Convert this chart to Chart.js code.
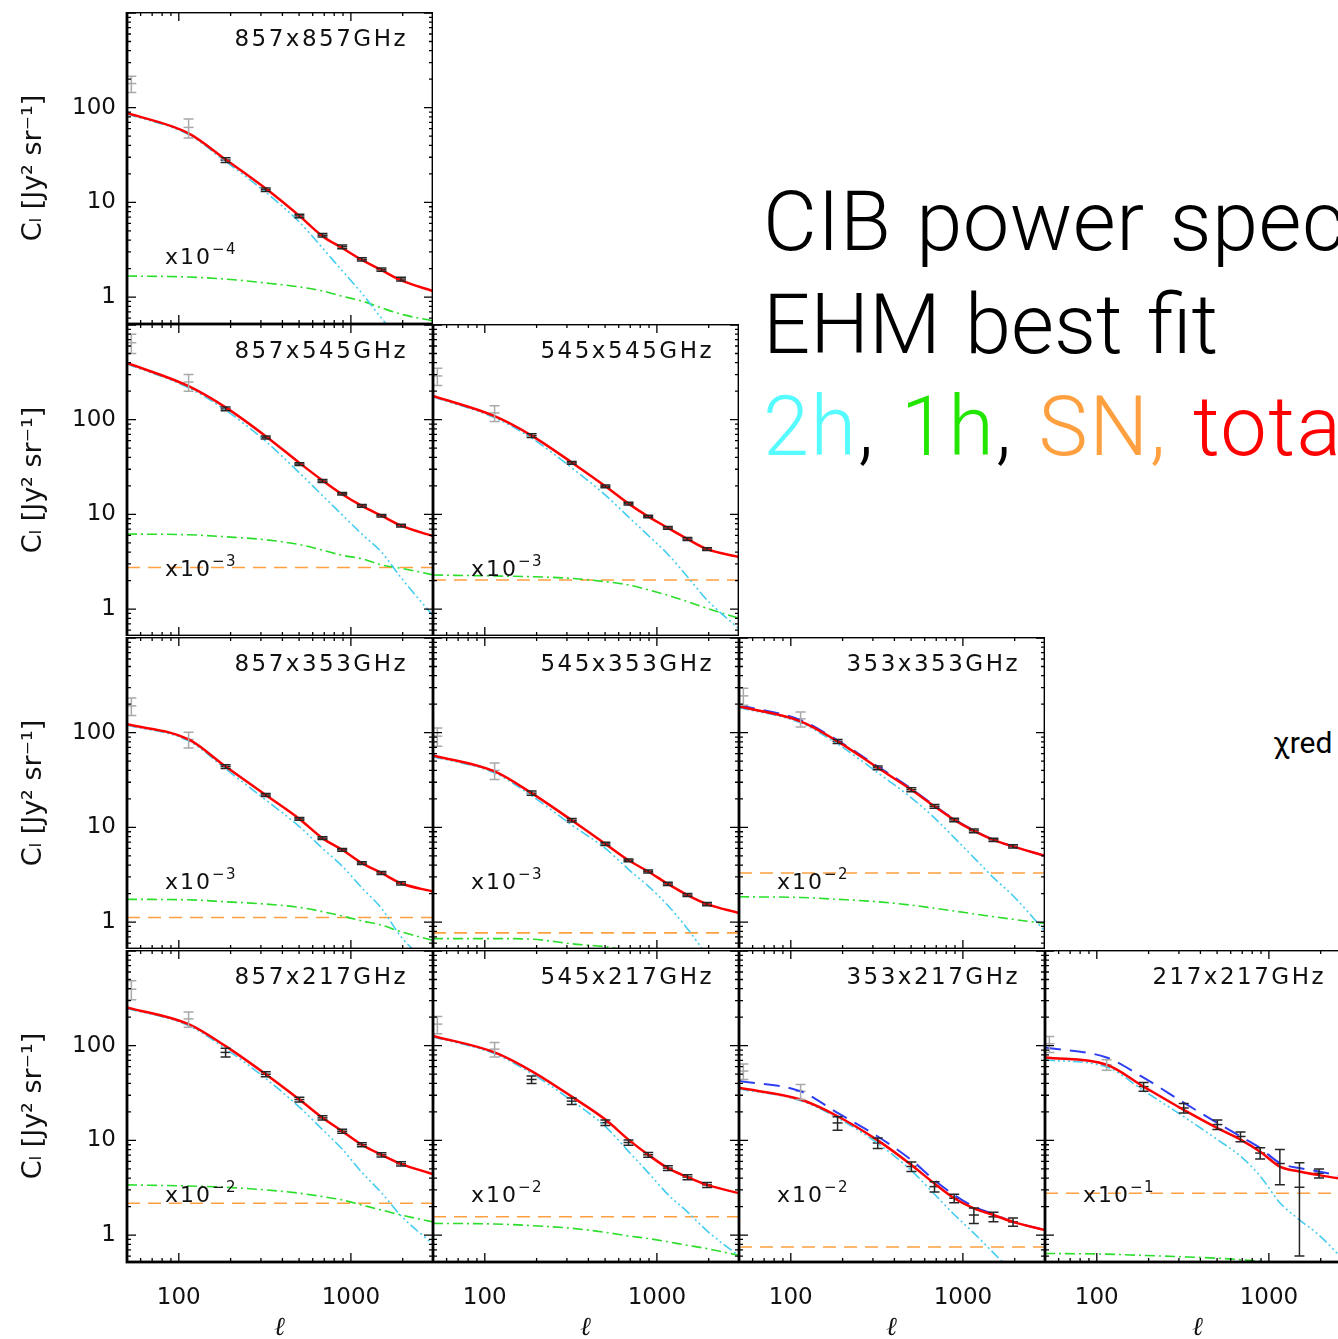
<!DOCTYPE html>
<html><head><meta charset="utf-8">
<script src="https://cdn.jsdelivr.net/npm/chart.js@4.4.1/dist/chart.umd.min.js"></script>
<style>
html,body{margin:0;padding:0;background:#fff;}
body{width:1338px;height:1339px;overflow:hidden;position:relative;}
canvas{position:absolute;}
.big{position:absolute;left:763px;font-family:"Helvetica Neue",Roboto,"Open Sans",sans-serif;font-weight:300;font-size:83px;line-height:83px;white-space:nowrap;color:#000;}
#chi{position:absolute;left:1273px;top:728px;font-family:"Helvetica Neue",Roboto,sans-serif;font-size:30px;line-height:30px;white-space:nowrap;}
</style></head><body>
<div class="big" style="top:180px;letter-spacing:0.5px;word-spacing:4px">CIB power spectra</div>
<div class="big" style="top:283px;letter-spacing:0px;word-spacing:4px">EHM best fit</div>
<div class="big" style="top:385px;letter-spacing:1.5px;word-spacing:4px"><span style="color:#55fbff">2h</span>, <span style="color:#22e600">1h</span>, <span style="color:#ffa040">SN,</span> <span style="color:#ff0000">total</span></div>
<div id="chi">χred</div>
<script>
// ---------- data ----------
const ELL = [50, 114, 187, 320, 502, 684, 890, 1158, 1505, 1956, 3000];
const DATA_ELL = [53, 114, 187, 320, 502, 684, 890, 1158, 1505, 1956];
const SN_ELL = [50, 3000];
const X_TICKS = [100, 1000];
const Y_TICKS = [1, 10, 100];

const LABELS = ['857x857GHz','857x545GHz','545x545GHz','857x353GHz','545x353GHz','353x353GHz','857x217GHz','545x217GHz','353x217GHz','217x217GHz'];
const EXPONENTS = ['4','3','3','3','3','2','2','2','2','1'];

const TOT_857x857 = [88, 53.6, 28.4, 14.0, 7.2, 4.4, 3.3, 2.47, 1.93, 1.5, 1.16];
const TWO_857x857 = [86, 52, 27, 12.8, 6.2, 3.3, 1.9, 1.1, 0.6, 0.35, 0.15];
const ONE_857x857 = [1.67, 1.63, 1.55, 1.41, 1.28, 1.16, 1.02, 0.91, 0.77, 0.66, 0.56];
const DAT_857x857 = [180, 62, 28, 13.6, 7.2, 4.5, 3.4, 2.5, 1.95, 1.55];
const ERR_857x857 = [35, 14, 1.6, 0.6, 0.3, 0.2, 0.15, 0.1, 0.08, 0.07];

const TOT_857x545 = [398, 226, 135, 67, 35, 22.8, 16.3, 12.3, 9.7, 7.6, 5.9];
const TWO_857x545 = [389, 217, 126, 59, 27.5, 15.8, 9.9, 6.2, 4.0, 2.15, 0.85];
const ONE_857x545 = [6.2, 6.1, 5.8, 5.4, 4.8, 4.2, 3.7, 3.4, 2.93, 2.7, 2.3];
const SN_857x545 = [2.75, 2.75];
const DAT_857x545 = [650, 250, 130, 65, 34, 22.5, 16.5, 12.3, 9.7, 7.6];
const ERR_857x545 = [150, 50, 6, 2.5, 1.2, 0.8, 0.5, 0.4, 0.3, 0.25];

const TOT_545x545 = [178, 109, 68, 35.4, 19.8, 13, 9.5, 7.2, 5.5, 4.3, 3.55];
const TWO_545x545 = [174, 105, 64, 31, 16, 9.4, 6.0, 3.8, 2.2, 1.25, 0.62];
const ONE_545x545 = [2.29, 2.24, 2.2, 2.11, 1.95, 1.8, 1.6, 1.4, 1.2, 1.02, 0.8];
const SN_545x545 = [2.03, 2.03];
const DAT_545x545 = [290, 118, 68, 35, 19.8, 13, 9.5, 7.2, 5.5, 4.3];
const ERR_545x545 = [60, 22, 3, 1.2, 0.7, 0.4, 0.3, 0.25, 0.2, 0.15];

const TOT_857x353 = [123, 85, 44, 22, 12.3, 7.7, 5.8, 4.2, 3.3, 2.57, 2.1];
const TWO_857x353 = [120, 82, 41.5, 19.5, 10.2, 6.0, 3.9, 2.3, 1.4, 0.7, 0.33];
const ONE_857x353 = [1.74, 1.72, 1.64, 1.55, 1.43, 1.29, 1.16, 1.03, 0.93, 0.79, 0.64];
const SN_857x353 = [1.12, 1.12];
const DAT_857x353 = [192, 85, 44, 22, 12.3, 7.7, 5.8, 4.2, 3.3, 2.57];
const ERR_857x353 = [40, 16, 2, 0.8, 0.4, 0.25, 0.2, 0.15, 0.12, 0.1];

const TOT_545x353 = [57.6, 39, 23, 11.9, 6.7, 4.5, 3.42, 2.53, 1.93, 1.55, 1.25];
const TWO_545x353 = [56, 37.6, 21.6, 10.6, 6.0, 3.6, 2.4, 1.5, 0.85, 0.45, 0.18];
const ONE_545x353 = [0.67, 0.67, 0.66, 0.59, 0.55, 0.5, 0.45, 0.42, 0.4, 0.38, 0.35];
const SN_545x353 = [0.77, 0.77];
const DAT_545x353 = [92, 40, 23, 11.9, 6.7, 4.5, 3.42, 2.53, 1.93, 1.55];
const ERR_545x353 = [20, 8, 1.2, 0.5, 0.25, 0.15, 0.12, 0.1, 0.07, 0.06];

const TOT_353x353 = [189, 132, 81, 42.6, 25, 16.7, 12, 9.2, 7.4, 6.3, 5.0];
const ALT_353x353 = [195, 136, 83, 44, 25.6, 17, 12.2, 9.3, 7.4, 6.3, 5.0];
const TWO_353x353 = [184, 127, 76, 37.8, 20.5, 12.6, 7.8, 4.8, 2.95, 1.9, 0.8];
const ONE_353x353 = [1.85, 1.82, 1.74, 1.64, 1.51, 1.4, 1.31, 1.22, 1.14, 1.07, 0.97];
const SN_353x353 = [3.3, 3.3];
const DAT_353x353 = [245, 140, 81, 42.6, 25, 16.7, 12, 9.2, 7.4, 6.3];
const ERR_353x353 = [50, 25, 4, 2, 1.2, 0.8, 0.5, 0.4, 0.3, 0.25];

const TOT_857x217 = [254, 169, 99, 50, 27, 17.3, 12.5, 9.0, 7.05, 5.66, 4.4];
const TWO_857x217 = [248, 163, 93, 45, 22.5, 13, 8.1, 4.6, 2.8, 1.6, 0.8];
const ONE_857x217 = [3.39, 3.3, 3.2, 3.0, 2.77, 2.55, 2.35, 2.08, 1.84, 1.63, 1.38];
const SN_857x217 = [2.17, 2.17];
const DAT_857x217 = [395, 192, 85, 50, 27, 17.3, 12.5, 9.0, 7.05, 5.66];
const ERR_857x217 = [90, 35, 9, 3, 1.5, 0.9, 0.6, 0.45, 0.35, 0.3];

const TOT_545x217 = [127, 85, 54, 29, 16.6, 10.2, 7.05, 5.1, 4.1, 3.39, 2.77];
const TWO_545x217 = [124, 82, 51, 26.3, 14, 7.66, 4.57, 2.69, 1.76, 1.11, 0.6];
const ONE_545x217 = [1.33, 1.31, 1.26, 1.18, 1.07, 0.98, 0.92, 0.85, 0.78, 0.72, 0.61];
const SN_545x217 = [1.56, 1.56];
const DAT_545x217 = [169, 92, 44, 26, 15.4, 9.5, 7.05, 5.1, 4.1, 3.39];
const ERR_545x217 = [35, 16, 4, 2, 1, 0.6, 0.4, 0.3, 0.25, 0.2];

const TOT_353x217 = [35.9, 27, 18, 10, 5.5, 3.5, 2.45, 1.92, 1.63, 1.38, 1.13];
const ALT_353x217 = [42.3, 33, 19.5, 11, 6.2, 3.8, 2.65, 2.0, 1.67, 1.38, 1.13];
const TWO_353x217 = [35, 26.3, 17.3, 9.3, 4.8, 2.7, 1.65, 1.05, 0.65, 0.4, 0.15];
const ONE_353x217 = [0.45, 0.44, 0.43, 0.41, 0.39, 0.37, 0.35, 0.33, 0.31, 0.29, 0.26];
const SN_353x217 = [0.75, 0.75];
const DAT_353x217 = [54, 33, 15.3, 9.4, 5.3, 3.25, 2.45, 1.63, 1.56, 1.38];
const ERR_353x217 = [10, 6, 2.5, 1.2, 0.6, 0.4, 0.25, 0.3, 0.18, 0.14];

const TOT_217x217 = [75, 63, 37, 21, 13.5, 10.2, 7.6, 5.3, 4.7, 4.3, 3.8];
const ALT_217x217 = [95.5, 75, 46, 25, 15.3, 11, 8.3, 5.76, 5.1, 4.7, 4.0];
const TWO_217x217 = [71, 59.6, 33.6, 17.8, 10.2, 6.8, 4.2, 2.2, 1.45, 1.0, 0.45];
const ONE_217x217 = [0.64, 0.63, 0.61, 0.59, 0.57, 0.55, 0.53, 0.505, 0.48, 0.46, 0.43];
const SN_217x217 = [2.77, 2.77];
const DAT_217x217 = [105, 63, 37, 22, 14.7, 11, 7.35, 5.7, 3.2, 4.5];
const ERR_217x217 = [20, 8, 4, 2.5, 1.7, 1.3, 1.0, 2.3, 2.6, 0.5];

// ---------- panel table (built from arrays above) ----------
const SERIES = [
  [TOT_857x857, null, TWO_857x857, ONE_857x857, null, DAT_857x857, ERR_857x857],
  [TOT_857x545, null, TWO_857x545, ONE_857x545, SN_857x545, DAT_857x545, ERR_857x545],
  [TOT_545x545, null, TWO_545x545, ONE_545x545, SN_545x545, DAT_545x545, ERR_545x545],
  [TOT_857x353, null, TWO_857x353, ONE_857x353, SN_857x353, DAT_857x353, ERR_857x353],
  [TOT_545x353, null, TWO_545x353, ONE_545x353, SN_545x353, DAT_545x353, ERR_545x353],
  [TOT_353x353, ALT_353x353, TWO_353x353, ONE_353x353, SN_353x353, DAT_353x353, ERR_353x353],
  [TOT_857x217, null, TWO_857x217, ONE_857x217, SN_857x217, DAT_857x217, ERR_857x217],
  [TOT_545x217, null, TWO_545x217, ONE_545x217, SN_545x217, DAT_545x217, ERR_545x217],
  [TOT_353x217, ALT_353x217, TWO_353x217, ONE_353x217, SN_353x217, DAT_353x217, ERR_353x217],
  [TOT_217x217, ALT_217x217, TWO_217x217, ONE_217x217, SN_217x217, DAT_217x217, ERR_217x217]
];

// ---------- layout ----------
const GRID_POS = [[0,0],[1,0],[1,1],[2,0],[2,1],[2,2],[3,0],[3,1],[3,2],[3,3]];
const FX = [127, 433, 739, 1045];
const FY = [12, 324, 637, 950];
const FW = 306, FH = 312;
const YAXIS_W = 127, XAXIS_H = 77;
const FONT = '"DejaVu Sans"';

Chart.defaults.font.family = 'DejaVu Sans';

const pts = (xs, ys) => xs.map((l, i) => ({x: l, y: ys[i]}));
const zeroPad = sc => { sc.paddingTop = 0; sc.paddingBottom = 0; sc.paddingLeft = 0; sc.paddingRight = 0; };

function decoPlugin(idx) {
  const s = SERIES[idx];
  return {
    id: 'deco' + idx,
    afterDatasetsDraw(chart) {
      const {ctx, chartArea: a, scales: {x, y}} = chart;
      ctx.save();
      ctx.beginPath(); ctx.rect(a.left, a.top, a.right - a.left, a.bottom - a.top); ctx.clip();
      ctx.lineWidth = 1.5;
      DATA_ELL.forEach((l, i) => {
        const v = s[5][i], e = s[6][i];
        const px = x.getPixelForValue(l);
        const y1 = y.getPixelForValue(v + e);
        const y2 = y.getPixelForValue(Math.max(v - e, 1e-3));
        ctx.strokeStyle = i < 2 ? '#a9a9a9' : '#262626';
        ctx.beginPath();
        ctx.moveTo(px, y1); ctx.lineTo(px, y2);
        ctx.moveTo(px - 5, y1); ctx.lineTo(px + 5, y1);
        ctx.moveTo(px - 5, y2); ctx.lineTo(px + 5, y2);
        ctx.stroke();
      });
      ctx.restore();
    },
    afterDraw(chart) {
      const {ctx, chartArea: a, scales: {x, y}} = chart;
      ctx.save();
      ctx.strokeStyle = '#000';
      ctx.lineWidth = 1.3;
      ctx.beginPath();
      for (let d = 10; d <= 1000; d *= 10) {
        for (let m = 1; m <= 9; m++) {
          const v = d * m;
          if (v < 50 || v > 3000) continue;
          const px = x.getPixelForValue(v);
          const len = m === 1 ? 9 : 4;
          ctx.moveTo(px, a.bottom); ctx.lineTo(px, a.bottom - len);
          ctx.moveTo(px, a.top); ctx.lineTo(px, a.top + len);
        }
      }
      for (let d = 0.1; d <= 1000; d *= 10) {
        for (let m = 1; m <= 9; m++) {
          const v = d * m;
          if (v < 0.52 || v > 1025) continue;
          const py = y.getPixelForValue(v);
          const len = m === 1 ? 9 : 4;
          ctx.moveTo(a.left, py); ctx.lineTo(a.left + len, py);
          ctx.moveTo(a.right, py); ctx.lineTo(a.right - len, py);
        }
      }
      ctx.stroke();
      ctx.lineWidth = 2.8;
      ctx.strokeRect(a.left, a.top, a.right - a.left, a.bottom - a.top);
      ctx.fillStyle = '#111';
      ctx.letterSpacing = '2.5px';
      ctx.font = '23px ' + FONT;
      ctx.textAlign = 'right';
      ctx.textBaseline = 'alphabetic';
      ctx.fillText(LABELS[idx], a.left + 281, a.top + 34);
      ctx.textAlign = 'left';
      ctx.font = '22px ' + FONT;
      ctx.letterSpacing = '2px';
      const bx = a.left + 38, by = a.top + 252;
      ctx.fillText('x10', bx, by);
      const w = ctx.measureText('x10').width;
      ctx.font = '15px ' + FONT;
      ctx.letterSpacing = '1.5px';
      ctx.fillText('\u2212' + EXPONENTS[idx], bx + w, by - 10);
      ctx.restore();
    }
  };
}

SERIES.forEach((s, idx) => {
  const [row, col] = GRID_POS[idx];
  const showY = col === 0, showX = row === 3;
  const left = showY ? FX[col] - YAXIS_W : FX[col];
  const top = FY[row];
  const width = FW + (showY ? YAXIS_W : 0);
  const height = FH + (showX ? XAXIS_H : 0);
  const cv = document.createElement('canvas');
  cv.width = width; cv.height = height;
  cv.style.left = left + 'px'; cv.style.top = top + 'px';
  cv.style.width = width + 'px'; cv.style.height = height + 'px';
  document.body.appendChild(cv);

  const base = {pointRadius: 0, fill: false, cubicInterpolationMode: 'monotone', borderCapStyle: 'butt'};
  const datasets = [
    Object.assign({}, base, {data: pts(ELL, s[0]), borderColor: '#ff0000', borderWidth: 2.5})
  ];
  if (s[1]) datasets.push(Object.assign({}, base, {data: pts(ELL, s[1]), borderColor: '#2f3ff0', borderWidth: 2, borderDash: [16, 9]}));
  datasets.push(Object.assign({}, base, {data: pts(ELL, s[2]), borderColor: '#45cdf0', borderWidth: 1.6, borderDash: [10, 3, 2, 3, 2, 3, 2, 3]}));
  datasets.push(Object.assign({}, base, {data: pts(ELL, s[3]), borderColor: '#2ade2a', borderWidth: 1.6, borderDash: [10, 4, 2, 4]}));
  if (s[4]) datasets.push(Object.assign({}, base, {data: pts(SN_ELL, s[4]), borderColor: '#ffa040', borderWidth: 1.6, borderDash: [13, 8], cubicInterpolationMode: 'default'}));
  datasets.push({
    data: pts(DATA_ELL, s[5]), showLine: false, pointStyle: 'line', pointRadius: 5,
    pointBorderWidth: 1.5,
    pointBorderColor: DATA_ELL.map((_, i) => i < 2 ? '#a9a9a9' : '#262626'),
    pointBackgroundColor: 'rgba(0,0,0,0)'
  });

  new Chart(cv, {
    type: 'line',
    data: {datasets},
    options: {
      responsive: false, maintainAspectRatio: false, animation: false, devicePixelRatio: 1, events: [],
      layout: {padding: 0, autoPadding: false},
      plugins: {legend: {display: false}, tooltip: {enabled: false}, title: {display: false}},
      scales: {
        x: {
          type: 'logarithmic', min: 50, max: 3000, display: showX, position: 'bottom',
          afterBuildTicks: sc => { sc.ticks = X_TICKS.map(v => ({value: v})); },
          afterFit: sc => { sc.height = showX ? XAXIS_H : 0; zeroPad(sc); },
          grid: {display: false, drawTicks: false}, border: {display: false},
          ticks: {color: '#111', font: {family: 'DejaVu Sans', size: 23}, padding: 22, maxRotation: 0, autoSkip: false, callback: v => String(v)},
          title: {display: true, text: 'ℓ', color: '#111', padding: 0,
                  font: {family: 'DejaVu Serif', size: 26, style: 'italic', weight: 'bold', lineHeight: 0.85}}
        },
        y: {
          type: 'logarithmic', min: 0.52, max: 1025, display: showY, position: 'left',
          afterBuildTicks: sc => { sc.ticks = Y_TICKS.map(v => ({value: v})); },
          afterFit: sc => { sc.width = showY ? YAXIS_W : 0; zeroPad(sc); },
          grid: {display: false, drawTicks: false}, border: {display: false},
          ticks: {color: '#111', font: {family: 'DejaVu Sans', size: 23}, padding: 11, autoSkip: false, callback: v => String(v)},
          title: {display: true, text: 'Cₗ [Jy² sr⁻¹]', color: '#111', padding: {top: 18, bottom: 0},
                  font: {family: 'DejaVu Sans', size: 27, lineHeight: 1.2}}
        }
      }
    },
    plugins: [decoPlugin(idx)]
  });
});
</script>
</body></html>
